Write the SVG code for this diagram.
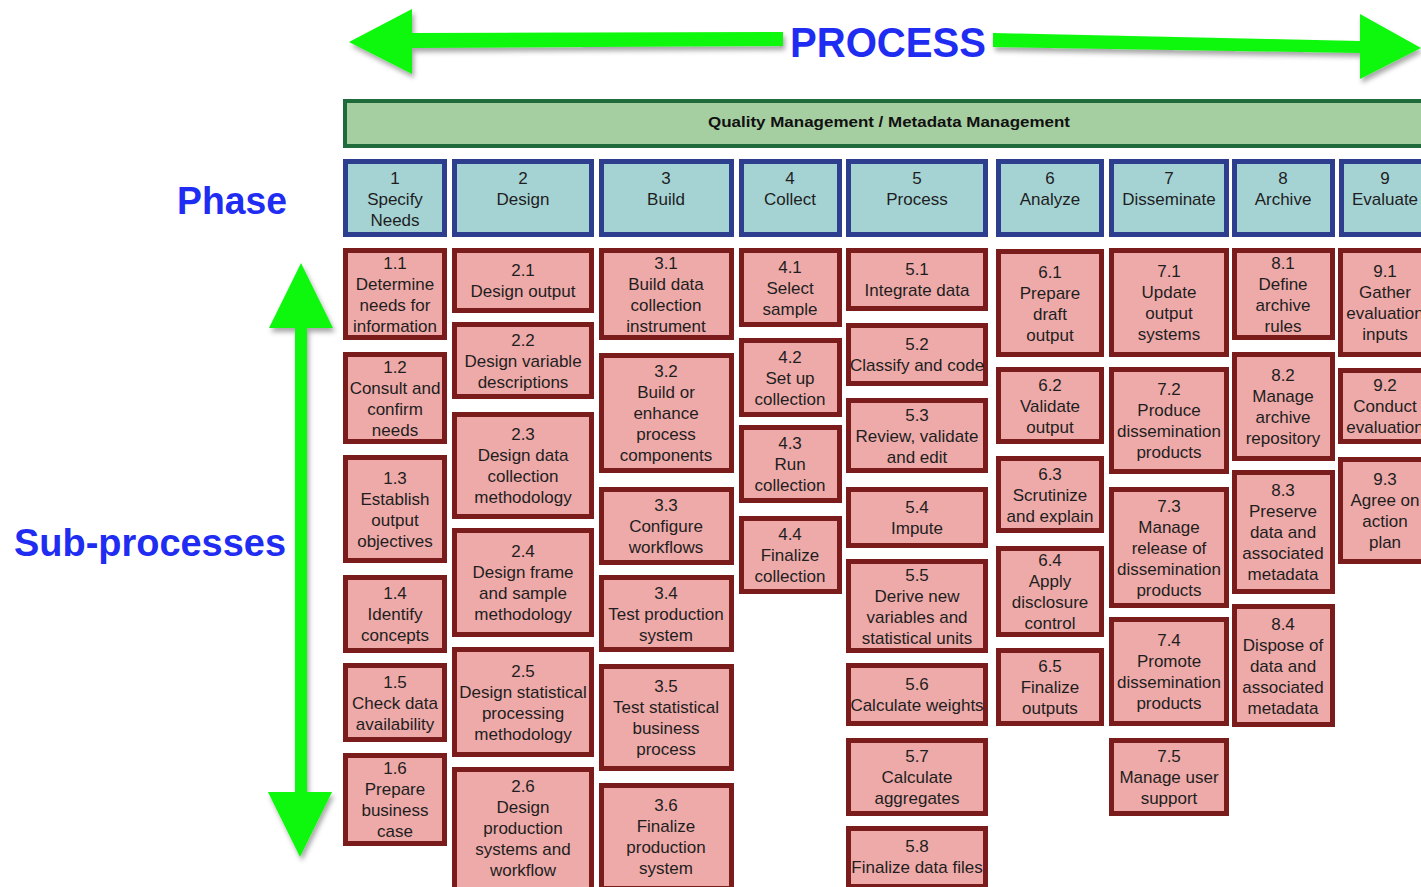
<svg xmlns="http://www.w3.org/2000/svg" width="1421" height="887" viewBox="0 0 1421 887">
<defs>
<filter id="sh" x="-10%" y="-20%" width="130%" height="160%">
<feDropShadow dx="2" dy="4" stdDeviation="2.5" flood-color="#000" flood-opacity="0.35"/>
</filter>
<style>
.sub rect{fill:#eeaaa9;stroke:#7a1c1c;stroke-width:5}
.ph rect{fill:#a5d3d4;stroke:#2d3e8e;stroke-width:5}
.t{font-family:"Liberation Sans",Arial,sans-serif;font-size:17px;fill:#1e1e1e;text-anchor:middle}
.lbl{font-family:"Liberation Sans",Arial,sans-serif;font-weight:bold;fill:#1f2cf2}
.arr{fill:#10f810;filter:url(#sh)}
</style>
</defs>
<rect width="1421" height="887" fill="#fff"/>

<g id="arrows">
<polygon class="arr" points="349,42 412,9 412,33 783,32 783,46 412,48 412,74"/>
<polygon class="arr" points="993,33 1360,41 1360,14 1421,48 1360,79 1360,53 993,47"/>
<polygon class="arr" points="301,263 333,328 307,328 307,792 332,792 300,857 268,792 295,792 295,328 269,328"/>
</g>

<g id="labels">
<text class="lbl" x="888" y="57" font-size="42" text-anchor="middle" textLength="196" lengthAdjust="spacingAndGlyphs">PROCESS</text>
<text class="lbl" x="287" y="214" font-size="38" text-anchor="end" textLength="110" lengthAdjust="spacingAndGlyphs">Phase</text>
<text class="lbl" x="286" y="556" font-size="38" text-anchor="end" textLength="272" lengthAdjust="spacingAndGlyphs">Sub-processes</text>
</g>

<g id="qm">
<rect x="345" y="101" width="1090" height="45" fill="#a6cfa1" stroke="#1f6b3b" stroke-width="4"/>
<text x="889" y="127" font-family="Liberation Sans, Arial, sans-serif" font-weight="bold" font-size="15.5" fill="#111" text-anchor="middle" textLength="362" lengthAdjust="spacingAndGlyphs">Quality Management / Metadata Management</text>
</g>

<g id="phases" class="ph">
<g id="p1"><rect x="345.5" y="161.5" width="99" height="73"/><text class="t" y="184"><tspan x="395">1</tspan><tspan x="395" dy="21">Specify</tspan><tspan x="395" dy="21">Needs</tspan></text></g>
<g id="p2"><rect x="454.5" y="161.5" width="137" height="73"/><text class="t" y="184"><tspan x="523">2</tspan><tspan x="523" dy="21">Design</tspan></text></g>
<g id="p3"><rect x="601.5" y="161.5" width="130" height="73"/><text class="t" y="184"><tspan x="666">3</tspan><tspan x="666" dy="21">Build</tspan></text></g>
<g id="p4"><rect x="741.5" y="161.5" width="98" height="73"/><text class="t" y="184"><tspan x="790">4</tspan><tspan x="790" dy="21">Collect</tspan></text></g>
<g id="p5"><rect x="848.5" y="161.5" width="137" height="73"/><text class="t" y="184"><tspan x="917">5</tspan><tspan x="917" dy="21">Process</tspan></text></g>
<g id="p6"><rect x="998.5" y="161.5" width="103" height="73"/><text class="t" y="184"><tspan x="1050">6</tspan><tspan x="1050" dy="21">Analyze</tspan></text></g>
<g id="p7"><rect x="1111.5" y="161.5" width="115" height="73"/><text class="t" y="184"><tspan x="1169">7</tspan><tspan x="1169" dy="21">Disseminate</tspan></text></g>
<g id="p8"><rect x="1234.5" y="161.5" width="98" height="73"/><text class="t" y="184"><tspan x="1283">8</tspan><tspan x="1283" dy="21">Archive</tspan></text></g>
<g id="p9"><rect x="1341.5" y="161.5" width="89" height="73"/><text class="t" y="184"><tspan x="1385">9</tspan><tspan x="1385" dy="21">Evaluate</tspan></text></g>
</g>

<g id="subprocesses" class="sub">
<!-- column 1 -->
<g id="s1_1"><rect x="345.5" y="250.5" width="99" height="87"/><text class="t" y="268.5"><tspan x="395">1.1</tspan><tspan x="395" dy="21">Determine</tspan><tspan x="395" dy="21">needs for</tspan><tspan x="395" dy="21">information</tspan></text></g>
<g id="s1_2"><rect x="345.5" y="354.5" width="99" height="87"/><text class="t" y="372.5"><tspan x="395">1.2</tspan><tspan x="395" dy="21">Consult and</tspan><tspan x="395" dy="21">confirm</tspan><tspan x="395" dy="21">needs</tspan></text></g>
<g id="s1_3"><rect x="345.5" y="457.5" width="99" height="103"/><text class="t" y="483.5"><tspan x="395">1.3</tspan><tspan x="395" dy="21">Establish</tspan><tspan x="395" dy="21">output</tspan><tspan x="395" dy="21">objectives</tspan></text></g>
<g id="s1_4"><rect x="345.5" y="577.5" width="99" height="73"/><text class="t" y="599"><tspan x="395">1.4</tspan><tspan x="395" dy="21">Identify</tspan><tspan x="395" dy="21">concepts</tspan></text></g>
<g id="s1_5"><rect x="345.5" y="665.5" width="99" height="74"/><text class="t" y="687.5"><tspan x="395">1.5</tspan><tspan x="395" dy="21">Check data</tspan><tspan x="395" dy="21">availability</tspan></text></g>
<g id="s1_6"><rect x="345.5" y="755.5" width="99" height="88"/><text class="t" y="774"><tspan x="395">1.6</tspan><tspan x="395" dy="21">Prepare</tspan><tspan x="395" dy="21">business</tspan><tspan x="395" dy="21">case</tspan></text></g>
<!-- column 2 -->
<g id="s2_1"><rect x="454.5" y="250.5" width="137" height="60"/><text class="t" y="276"><tspan x="523">2.1</tspan><tspan x="523" dy="21">Design output</tspan></text></g>
<g id="s2_2"><rect x="454.5" y="324.5" width="137" height="72"/><text class="t" y="345.5"><tspan x="523">2.2</tspan><tspan x="523" dy="21">Design variable</tspan><tspan x="523" dy="21">descriptions</tspan></text></g>
<g id="s2_3"><rect x="454.5" y="414.5" width="137" height="102"/><text class="t" y="440"><tspan x="523">2.3</tspan><tspan x="523" dy="21">Design data</tspan><tspan x="523" dy="21">collection</tspan><tspan x="523" dy="21">methodology</tspan></text></g>
<g id="s2_4"><rect x="454.5" y="530.5" width="137" height="104"/><text class="t" y="557"><tspan x="523">2.4</tspan><tspan x="523" dy="21">Design frame</tspan><tspan x="523" dy="21">and sample</tspan><tspan x="523" dy="21">methodology</tspan></text></g>
<g id="s2_5"><rect x="454.5" y="649.5" width="137" height="105"/><text class="t" y="676.5"><tspan x="523">2.5</tspan><tspan x="523" dy="21">Design statistical</tspan><tspan x="523" dy="21">processing</tspan><tspan x="523" dy="21">methodology</tspan></text></g>
<g id="s2_6"><rect x="454.5" y="769.5" width="137" height="120"/><text class="t" y="792"><tspan x="523">2.6</tspan><tspan x="523" dy="21">Design</tspan><tspan x="523" dy="21">production</tspan><tspan x="523" dy="21">systems and</tspan><tspan x="523" dy="21">workflow</tspan></text></g>
<!-- column 3 -->
<g id="s3_1"><rect x="601.5" y="250.5" width="130" height="87"/><text class="t" y="268.5"><tspan x="666">3.1</tspan><tspan x="666" dy="21">Build data</tspan><tspan x="666" dy="21">collection</tspan><tspan x="666" dy="21">instrument</tspan></text></g>
<g id="s3_2"><rect x="601.5" y="355.5" width="130" height="115"/><text class="t" y="377"><tspan x="666">3.2</tspan><tspan x="666" dy="21">Build or</tspan><tspan x="666" dy="21">enhance</tspan><tspan x="666" dy="21">process</tspan><tspan x="666" dy="21">components</tspan></text></g>
<g id="s3_3"><rect x="601.5" y="489.5" width="130" height="73"/><text class="t" y="511"><tspan x="666">3.3</tspan><tspan x="666" dy="21">Configure</tspan><tspan x="666" dy="21">workflows</tspan></text></g>
<g id="s3_4"><rect x="601.5" y="577.5" width="130" height="72"/><text class="t" y="598.5"><tspan x="666">3.4</tspan><tspan x="666" dy="21">Test production</tspan><tspan x="666" dy="21">system</tspan></text></g>
<g id="s3_5"><rect x="601.5" y="666.5" width="130" height="102"/><text class="t" y="692"><tspan x="666">3.5</tspan><tspan x="666" dy="21">Test statistical</tspan><tspan x="666" dy="21">business</tspan><tspan x="666" dy="21">process</tspan></text></g>
<g id="s3_6"><rect x="601.5" y="785.5" width="130" height="103"/><text class="t" y="811"><tspan x="666">3.6</tspan><tspan x="666" dy="21">Finalize</tspan><tspan x="666" dy="21">production</tspan><tspan x="666" dy="21">system</tspan></text></g>
<!-- column 4 -->
<g id="s4_1"><rect x="741.5" y="250.5" width="98" height="74"/><text class="t" y="272.5"><tspan x="790">4.1</tspan><tspan x="790" dy="21">Select</tspan><tspan x="790" dy="21">sample</tspan></text></g>
<g id="s4_2"><rect x="741.5" y="340.5" width="98" height="74"/><text class="t" y="362.5"><tspan x="790">4.2</tspan><tspan x="790" dy="21">Set up</tspan><tspan x="790" dy="21">collection</tspan></text></g>
<g id="s4_3"><rect x="741.5" y="427.5" width="98" height="73"/><text class="t" y="449"><tspan x="790">4.3</tspan><tspan x="790" dy="21">Run</tspan><tspan x="790" dy="21">collection</tspan></text></g>
<g id="s4_4"><rect x="741.5" y="518.5" width="98" height="73"/><text class="t" y="540"><tspan x="790">4.4</tspan><tspan x="790" dy="21">Finalize</tspan><tspan x="790" dy="21">collection</tspan></text></g>
<!-- column 5 -->
<g id="s5_1"><rect x="848.5" y="250.5" width="137" height="58"/><text class="t" y="275"><tspan x="917">5.1</tspan><tspan x="917" dy="21">Integrate data</tspan></text></g>
<g id="s5_2"><rect x="848.5" y="325.5" width="137" height="58"/><text class="t" y="350"><tspan x="917">5.2</tspan><tspan x="917" dy="21">Classify and code</tspan></text></g>
<g id="s5_3"><rect x="848.5" y="400.5" width="137" height="70"/><text class="t" y="420.5"><tspan x="917">5.3</tspan><tspan x="917" dy="21">Review, validate</tspan><tspan x="917" dy="21">and edit</tspan></text></g>
<g id="s5_4"><rect x="848.5" y="489.5" width="137" height="56"/><text class="t" y="513"><tspan x="917">5.4</tspan><tspan x="917" dy="21">Impute</tspan></text></g>
<g id="s5_5"><rect x="848.5" y="561.5" width="137" height="89"/><text class="t" y="580.5"><tspan x="917">5.5</tspan><tspan x="917" dy="21">Derive new</tspan><tspan x="917" dy="21">variables and</tspan><tspan x="917" dy="21">statistical units</tspan></text></g>
<g id="s5_6"><rect x="848.5" y="665.5" width="137" height="58"/><text class="t" y="690"><tspan x="917">5.6</tspan><tspan x="917" dy="21">Calculate weights</tspan></text></g>
<g id="s5_7"><rect x="848.5" y="740.5" width="137" height="73"/><text class="t" y="762"><tspan x="917">5.7</tspan><tspan x="917" dy="21">Calculate</tspan><tspan x="917" dy="21">aggregates</tspan></text></g>
<g id="s5_8"><rect x="848.5" y="828.5" width="137" height="58"/><text class="t" y="852"><tspan x="917">5.8</tspan><tspan x="917" dy="21">Finalize data files</tspan></text></g>
<!-- column 6 -->
<g id="s6_1"><rect x="998.5" y="251.5" width="103" height="103"/><text class="t" y="277.5"><tspan x="1050">6.1</tspan><tspan x="1050" dy="21">Prepare</tspan><tspan x="1050" dy="21">draft</tspan><tspan x="1050" dy="21">output</tspan></text></g>
<g id="s6_2"><rect x="998.5" y="369.5" width="103" height="72"/><text class="t" y="390.5"><tspan x="1050">6.2</tspan><tspan x="1050" dy="21">Validate</tspan><tspan x="1050" dy="21">output</tspan></text></g>
<g id="s6_3"><rect x="998.5" y="458.5" width="103" height="72"/><text class="t" y="479.5"><tspan x="1050">6.3</tspan><tspan x="1050" dy="21">Scrutinize</tspan><tspan x="1050" dy="21">and explain</tspan></text></g>
<g id="s6_4"><rect x="998.5" y="548.5" width="103" height="86"/><text class="t" y="566"><tspan x="1050">6.4</tspan><tspan x="1050" dy="21">Apply</tspan><tspan x="1050" dy="21">disclosure</tspan><tspan x="1050" dy="21">control</tspan></text></g>
<g id="s6_5"><rect x="998.5" y="650.5" width="103" height="73"/><text class="t" y="672"><tspan x="1050">6.5</tspan><tspan x="1050" dy="21">Finalize</tspan><tspan x="1050" dy="21">outputs</tspan></text></g>
<!-- column 7 -->
<g id="s7_1"><rect x="1111.5" y="250.5" width="115" height="104"/><text class="t" y="277"><tspan x="1169">7.1</tspan><tspan x="1169" dy="21">Update</tspan><tspan x="1169" dy="21">output</tspan><tspan x="1169" dy="21">systems</tspan></text></g>
<g id="s7_2"><rect x="1111.5" y="369.5" width="115" height="102"/><text class="t" y="395"><tspan x="1169">7.2</tspan><tspan x="1169" dy="21">Produce</tspan><tspan x="1169" dy="21">dissemination</tspan><tspan x="1169" dy="21">products</tspan></text></g>
<g id="s7_3"><rect x="1111.5" y="489.5" width="115" height="116"/><text class="t" y="511.5"><tspan x="1169">7.3</tspan><tspan x="1169" dy="21">Manage</tspan><tspan x="1169" dy="21">release of</tspan><tspan x="1169" dy="21">dissemination</tspan><tspan x="1169" dy="21">products</tspan></text></g>
<g id="s7_4"><rect x="1111.5" y="619.5" width="115" height="104"/><text class="t" y="646"><tspan x="1169">7.4</tspan><tspan x="1169" dy="21">Promote</tspan><tspan x="1169" dy="21">dissemination</tspan><tspan x="1169" dy="21">products</tspan></text></g>
<g id="s7_5"><rect x="1111.5" y="740.5" width="115" height="73"/><text class="t" y="762"><tspan x="1169">7.5</tspan><tspan x="1169" dy="21">Manage user</tspan><tspan x="1169" dy="21">support</tspan></text></g>
<!-- column 8 -->
<g id="s8_1"><rect x="1234.5" y="250.5" width="98" height="87"/><text class="t" y="268.5"><tspan x="1283">8.1</tspan><tspan x="1283" dy="21">Define</tspan><tspan x="1283" dy="21">archive</tspan><tspan x="1283" dy="21">rules</tspan></text></g>
<g id="s8_2"><rect x="1234.5" y="354.5" width="98" height="104"/><text class="t" y="381"><tspan x="1283">8.2</tspan><tspan x="1283" dy="21">Manage</tspan><tspan x="1283" dy="21">archive</tspan><tspan x="1283" dy="21">repository</tspan></text></g>
<g id="s8_3"><rect x="1234.5" y="472.5" width="98" height="119"/><text class="t" y="496"><tspan x="1283">8.3</tspan><tspan x="1283" dy="21">Preserve</tspan><tspan x="1283" dy="21">data and</tspan><tspan x="1283" dy="21">associated</tspan><tspan x="1283" dy="21">metadata</tspan></text></g>
<g id="s8_4"><rect x="1234.5" y="606.5" width="98" height="118"/><text class="t" y="629.5"><tspan x="1283">8.4</tspan><tspan x="1283" dy="21">Dispose of</tspan><tspan x="1283" dy="21">data and</tspan><tspan x="1283" dy="21">associated</tspan><tspan x="1283" dy="21">metadata</tspan></text></g>
<!-- column 9 -->
<g id="s9_1"><rect x="1340.5" y="250.5" width="89" height="104"/><text class="t" y="277"><tspan x="1385">9.1</tspan><tspan x="1385" dy="21">Gather</tspan><tspan x="1385" dy="21">evaluation</tspan><tspan x="1385" dy="21">inputs</tspan></text></g>
<g id="s9_2"><rect x="1340.5" y="370.5" width="89" height="71"/><text class="t" y="391"><tspan x="1385">9.2</tspan><tspan x="1385" dy="21">Conduct</tspan><tspan x="1385" dy="21">evaluation</tspan></text></g>
<g id="s9_3"><rect x="1340.5" y="459.5" width="89" height="102"/><text class="t" y="485"><tspan x="1385">9.3</tspan><tspan x="1385" dy="21">Agree on</tspan><tspan x="1385" dy="21">action</tspan><tspan x="1385" dy="21">plan</tspan></text></g>
</g>
</svg>
